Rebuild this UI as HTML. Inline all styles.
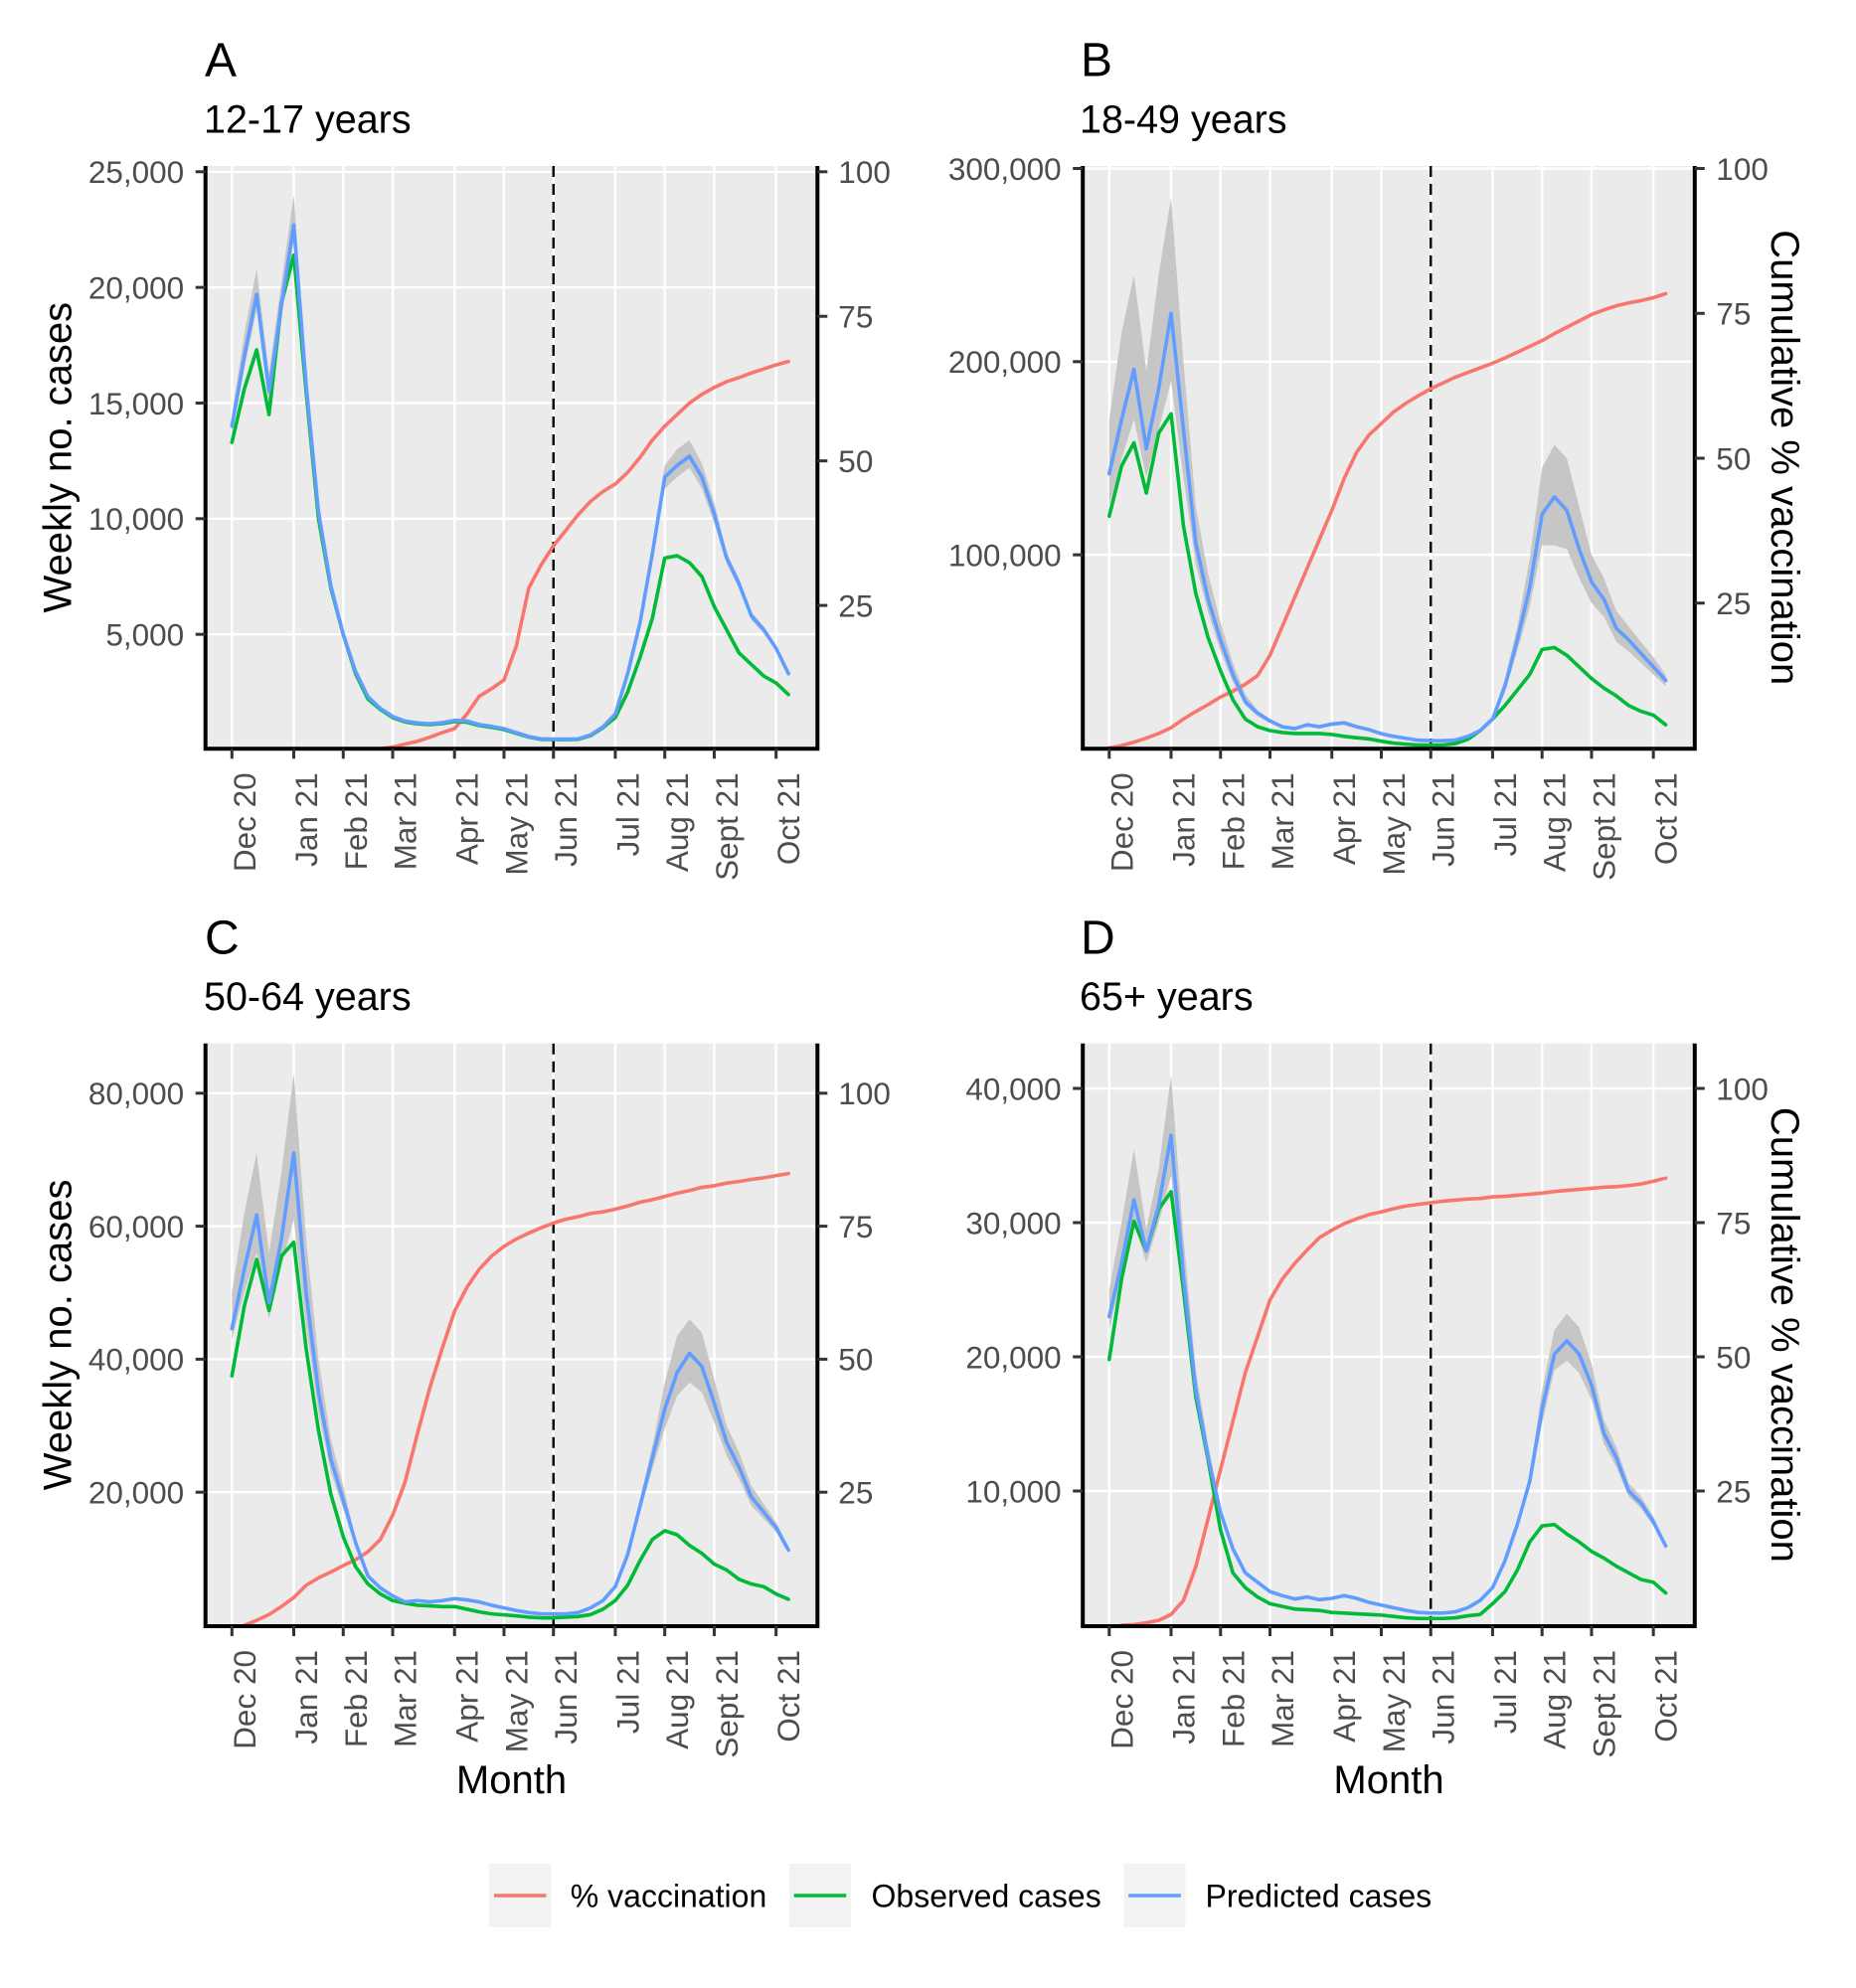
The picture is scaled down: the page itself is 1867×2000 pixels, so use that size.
<!DOCTYPE html>
<html><head><meta charset="utf-8">
<style>
html,body{margin:0;padding:0;background:#fff;}
svg{display:block;}
text{font-family:"Liberation Sans",Arial,Helvetica,sans-serif;}
.tk{font-size:31.5px;fill:#4D4D4D;}
.ttl{font-size:40px;fill:#000;}
.tag{font-size:48px;fill:#000;}
.sub{font-size:39.5px;fill:#000;}
.lg{font-size:32px;fill:#000;}
</style></head><body>
<svg width="1867" height="2000" viewBox="0 0 1867 2000">
<rect width="1867" height="2000" fill="#fff"/>
<g id="plots"></g>

<!-- tags and subtitles -->
<text class="tag" x="206" y="76.7">A</text>
<text class="sub" x="205" y="133.3">12-17 years</text>
<text class="tag" x="1087" y="76.7">B</text>
<text class="sub" x="1086" y="133.3">18-49 years</text>
<text class="tag" x="206" y="959.4">C</text>
<text class="sub" x="205" y="1016">50-64 years</text>
<text class="tag" x="1087" y="959.4">D</text>
<text class="sub" x="1086" y="1016">65+ years</text>

<!-- y tick labels A -->
<g class="tk" text-anchor="end">
<text x="185.2" y="649.5">5,000</text>
<text x="185.2" y="533.1">10,000</text>
<text x="185.2" y="416.8">15,000</text>
<text x="185.2" y="300.4">20,000</text>
<text x="185.2" y="184.1">25,000</text>
</g>
<g class="tk">
<text x="843.3" y="620.4">25</text>
<text x="843.3" y="475.0">50</text>
<text x="843.3" y="329.5">75</text>
<text x="843.3" y="184.1">100</text>
</g>
<!-- B -->
<g class="tk" text-anchor="end">
<text x="1067.7" y="569.5">100,000</text>
<text x="1067.7" y="375.1">200,000</text>
<text x="1067.7" y="180.8">300,000</text>
</g>
<g class="tk">
<text x="1726.3" y="618.1">25</text>
<text x="1726.3" y="472.3">50</text>
<text x="1726.3" y="326.6">75</text>
<text x="1726.3" y="180.8">100</text>
</g>
<!-- C -->
<g class="tk" text-anchor="end">
<text x="185.2" y="1512.5">20,000</text>
<text x="185.2" y="1378.7">40,000</text>
<text x="185.2" y="1244.9">60,000</text>
<text x="185.2" y="1111.1">80,000</text>
</g>
<g class="tk">
<text x="843.3" y="1512.5">25</text>
<text x="843.3" y="1378.7">50</text>
<text x="843.3" y="1244.9">75</text>
<text x="843.3" y="1111.1">100</text>
</g>
<!-- D -->
<g class="tk" text-anchor="end">
<text x="1067.7" y="1511.3">10,000</text>
<text x="1067.7" y="1376.3">20,000</text>
<text x="1067.7" y="1241.3">30,000</text>
<text x="1067.7" y="1106.3">40,000</text>
</g>
<g class="tk">
<text x="1726.3" y="1511.3">25</text>
<text x="1726.3" y="1376.3">50</text>
<text x="1726.3" y="1241.3">75</text>
<text x="1726.3" y="1106.3">100</text>
</g>

<!-- x tick labels -->
<g class="tk" text-anchor="end">
<text transform="translate(256.8,777.3) rotate(-90)">Dec 20</text>
<text transform="translate(319.0,777.3) rotate(-90)">Jan 21</text>
<text transform="translate(368.8,777.3) rotate(-90)">Feb 21</text>
<text transform="translate(418.5,777.3) rotate(-90)">Mar 21</text>
<text transform="translate(480.7,777.3) rotate(-90)">Apr 21</text>
<text transform="translate(530.5,777.3) rotate(-90)">May 21</text>
<text transform="translate(580.2,777.3) rotate(-90)">Jun 21</text>
<text transform="translate(642.4,777.3) rotate(-90)">Jul 21</text>
<text transform="translate(692.2,777.3) rotate(-90)">Aug 21</text>
<text transform="translate(742.0,777.3) rotate(-90)">Sept 21</text>
<text transform="translate(804.2,777.3) rotate(-90)">Oct 21</text>
</g>
<g class="tk" text-anchor="end" transform="translate(882.5,0)">
<text transform="translate(256.8,777.3) rotate(-90)">Dec 20</text>
<text transform="translate(319.0,777.3) rotate(-90)">Jan 21</text>
<text transform="translate(368.8,777.3) rotate(-90)">Feb 21</text>
<text transform="translate(418.5,777.3) rotate(-90)">Mar 21</text>
<text transform="translate(480.7,777.3) rotate(-90)">Apr 21</text>
<text transform="translate(530.5,777.3) rotate(-90)">May 21</text>
<text transform="translate(580.2,777.3) rotate(-90)">Jun 21</text>
<text transform="translate(642.4,777.3) rotate(-90)">Jul 21</text>
<text transform="translate(692.2,777.3) rotate(-90)">Aug 21</text>
<text transform="translate(742.0,777.3) rotate(-90)">Sept 21</text>
<text transform="translate(804.2,777.3) rotate(-90)">Oct 21</text>
</g>
<g class="tk" text-anchor="end" transform="translate(0,882.7)">
<text transform="translate(256.8,777.3) rotate(-90)">Dec 20</text>
<text transform="translate(319.0,777.3) rotate(-90)">Jan 21</text>
<text transform="translate(368.8,777.3) rotate(-90)">Feb 21</text>
<text transform="translate(418.5,777.3) rotate(-90)">Mar 21</text>
<text transform="translate(480.7,777.3) rotate(-90)">Apr 21</text>
<text transform="translate(530.5,777.3) rotate(-90)">May 21</text>
<text transform="translate(580.2,777.3) rotate(-90)">Jun 21</text>
<text transform="translate(642.4,777.3) rotate(-90)">Jul 21</text>
<text transform="translate(692.2,777.3) rotate(-90)">Aug 21</text>
<text transform="translate(742.0,777.3) rotate(-90)">Sept 21</text>
<text transform="translate(804.2,777.3) rotate(-90)">Oct 21</text>
</g>
<g class="tk" text-anchor="end" transform="translate(882.5,882.7)">
<text transform="translate(256.8,777.3) rotate(-90)">Dec 20</text>
<text transform="translate(319.0,777.3) rotate(-90)">Jan 21</text>
<text transform="translate(368.8,777.3) rotate(-90)">Feb 21</text>
<text transform="translate(418.5,777.3) rotate(-90)">Mar 21</text>
<text transform="translate(480.7,777.3) rotate(-90)">Apr 21</text>
<text transform="translate(530.5,777.3) rotate(-90)">May 21</text>
<text transform="translate(580.2,777.3) rotate(-90)">Jun 21</text>
<text transform="translate(642.4,777.3) rotate(-90)">Jul 21</text>
<text transform="translate(692.2,777.3) rotate(-90)">Aug 21</text>
<text transform="translate(742.0,777.3) rotate(-90)">Sept 21</text>
<text transform="translate(804.2,777.3) rotate(-90)">Oct 21</text>
</g>

<!-- axis titles -->
<text class="ttl" transform="translate(71.5,460.2) rotate(-90)" text-anchor="middle">Weekly no. cases</text>
<text class="ttl" transform="translate(71.5,1342.9) rotate(-90)" text-anchor="middle">Weekly no. cases</text>
<text class="ttl" transform="translate(1782,460.2) rotate(90)" text-anchor="middle">Cumulative % vaccination</text>
<text class="ttl" transform="translate(1782,1342.9) rotate(90)" text-anchor="middle">Cumulative % vaccination</text>
<text class="ttl" x="514.5" y="1804" text-anchor="middle">Month</text>
<text class="ttl" x="1397" y="1804" text-anchor="middle">Month</text>

<!-- legend -->
<rect x="492.3" y="1875" width="62" height="64" fill="#F2F2F2"/>
<line x1="497" y1="1907" x2="549.5" y2="1907" stroke="#F8766D" stroke-width="3.6"/>
<text class="lg" x="573.8" y="1918.5">% vaccination</text>
<rect x="794" y="1875" width="62" height="64" fill="#F2F2F2"/>
<line x1="798.7" y1="1907" x2="851.3" y2="1907" stroke="#00BA38" stroke-width="3.6"/>
<text class="lg" x="876.5" y="1918.5">Observed cases</text>
<rect x="1130.5" y="1875" width="62" height="64" fill="#F2F2F2"/>
<line x1="1135.2" y1="1907" x2="1187.8" y2="1907" stroke="#619CFF" stroke-width="3.6"/>
<text class="lg" x="1212.5" y="1918.5">Predicted cases</text>
</svg>

<script>
(function(){
var pw=12.44, months=[0,5,9,13,18,22,26,31,35,39,44];
var P=[
{id:'A',xL:206.7,xR:822.3,yT:167,yB:753.3,w0:233.3,z:754.5,k:0.023268,vm:25000,grid:[5000,10000,15000,20000,25000],rs:9,r:0.03,
blue:[14000,17000,19700,15500,19200,22700,15800,10300,7100,5000,3400,2300,1800,1450,1250,1170,1130,1180,1280,1250,1100,1020,920,750,580,480,470,470,480,650,1000,1550,3300,5500,8500,11800,12300,12700,11800,10200,8300,7200,5800,5200,4400,3300],
green:[13300,15600,17300,14500,19300,21400,15500,10000,7000,5000,3300,2200,1750,1400,1210,1130,1100,1140,1230,1200,1060,980,880,720,560,460,450,450,460,620,960,1400,2500,4000,5700,8300,8400,8100,7500,6200,5200,4200,3700,3200,2900,2400],
red:[0,0,0,0,0,0,0,0,0,0,0.05,0.1,0.2,0.5,1.0,1.5,2.2,3.0,3.7,6.2,9.3,10.6,12.1,18,28,32,35.3,38,40.7,43,44.7,46,48,50.6,53.6,56,58,60,61.5,62.7,63.7,64.4,65.2,65.9,66.6,67.2],
rib:{0:[13600,14500],1:[16500,18000],2:[19000,20800],3:[15000,16300],4:[18700,20200],5:[22000,24000],6:[15300,16500],35:[11300,12300],36:[11800,13000],37:[12200,13400],38:[11300,12400],39:[9800,10700]}},
{id:'B',xL:1089.2,xR:1704.8,yT:167,yB:753.3,w0:1115.8,z:752.5,k:0.0019433,vm:300000,grid:[100000,200000,300000],rs:0,r:0.08,
blue:[142000,170000,196000,155000,186000,225000,165000,106000,77000,56000,38000,24000,18000,14000,11000,10000,12000,11000,12400,13000,11000,9500,7400,6000,5000,4000,3800,3800,4100,6000,9000,15000,32000,56000,83000,121000,130000,123000,103000,86000,77000,62000,56000,49000,42000,35000],
green:[120000,146000,158000,132000,163000,173000,115000,80000,57000,40000,25000,15000,11000,9000,8000,7500,7500,7500,7000,6000,5300,4700,3500,2500,2000,1500,1500,1600,2300,4500,9000,15000,22000,30000,38000,51000,52000,48000,42000,36000,31000,27000,22000,19000,17000,12000],
red:[0,0.4,1.0,1.7,2.5,3.5,5.0,6.3,7.5,8.8,9.8,11,12.5,16,21,26,31,36,41,46.5,51,54,56,58,59.5,60.8,62,63,64,64.8,65.6,66.4,67.3,68.3,69.3,70.3,71.5,72.6,73.7,74.8,75.6,76.3,76.8,77.2,77.7,78.4],
rib:{0:[125000,170000],1:[150000,215000],2:[170000,245000],3:[140000,195000],4:[165000,245000],5:[190000,285000],6:[140000,200000],7:[95000,125000],8:[70000,90000],9:[50000,65000],10:[34000,44000],11:[22000,28000],32:[29000,36000],33:[50000,63000],34:[73000,98000],35:[105000,145000],36:[105000,157000],37:[103000,150000],38:[88000,125000],39:[75000,100000],40:[68000,88000],41:[55000,71000],42:[50000,63000],43:[44000,55000],44:[38000,47000],45:[32000,38000]}},
{id:'C',xL:206.7,xR:822.3,yT:1049.7,yB:1636,w0:233.3,z:1635,k:0.00669,vm:80000,grid:[20000,40000,60000,80000],rs:1,r:0.05,
blue:[44600,53500,61700,48500,58000,71000,50000,35000,25000,18800,12400,7400,5600,4400,3500,3700,3500,3700,4000,3800,3500,3000,2600,2200,1900,1700,1700,1700,1900,2600,3700,5800,10600,17900,25200,32500,38000,40900,38900,33400,27500,23800,19300,17000,14700,11300],
green:[37500,48000,55000,47300,55500,57600,41600,29300,19700,13300,8800,6200,4700,3700,3300,3000,2900,2800,2800,2400,2000,1700,1550,1400,1200,1100,1100,1200,1300,1600,2400,3700,6000,9700,12900,14200,13600,12000,10800,9200,8300,6900,6200,5800,4700,3900],
red:[0,0,0.9,2,3.5,5.2,7.5,8.9,10,11.2,12.3,13.8,16.1,20.7,26.9,36,44.6,52,59,63.5,66.9,69.4,71.2,72.6,73.7,74.7,75.6,76.3,76.8,77.4,77.7,78.2,78.8,79.5,80,80.6,81.2,81.7,82.3,82.6,83.1,83.4,83.8,84.1,84.5,84.9],
rib:{0:[43000,50000],1:[50000,62000],2:[56000,71000],3:[46000,56000],4:[54000,68000],5:[61000,83000],6:[45000,58000],7:[32000,40000],8:[23000,28000],9:[17500,21000],33:[17000,19000],34:[23500,27000],35:[29500,36500],36:[34500,43500],37:[36500,46000],38:[35000,44000],39:[30500,37000],40:[25500,30000],41:[22000,26000],42:[18000,21000],43:[16000,18200],44:[14000,15500],45:[10800,11800]}},
{id:'D',xL:1089.2,xR:1704.8,yT:1049.7,yB:1636,w0:1115.8,z:1635,k:0.0135,vm:40000,grid:[10000,20000,30000,40000],rs:1,r:0.04,
blue:[23000,27000,31700,27900,31300,36500,26000,17500,12500,8400,5700,3900,3200,2500,2200,1950,2100,1900,2000,2200,2000,1700,1500,1300,1100,950,900,900,1000,1300,1850,2800,4800,7500,10700,16100,20200,21200,20200,17900,14300,12500,10000,9100,7700,5900],
green:[19800,25800,30100,27900,31000,32300,25000,17000,12300,7100,3900,2800,2100,1600,1400,1200,1150,1100,950,900,850,800,750,650,550,500,500,500,550,700,800,1600,2500,4100,6200,7400,7500,6800,6200,5500,5000,4400,3900,3400,3200,2400],
red:[0,0,0.1,0.45,0.9,2,4.6,10.9,19.9,29,38,47,53.8,60.6,64.5,67.4,69.9,72.2,73.6,74.8,75.7,76.5,77,77.6,78.1,78.4,78.7,79,79.2,79.4,79.5,79.8,79.9,80.1,80.3,80.5,80.8,81,81.2,81.4,81.6,81.7,81.9,82.2,82.7,83.3],
rib:{0:[22000,25000],1:[26000,30000],2:[30000,35500],3:[27000,29500],4:[30000,34000],5:[33500,41000],6:[24500,29000],7:[16500,19000],8:[12000,13500],34:[10300,11200],35:[15000,17500],36:[19000,22000],37:[19700,23200],38:[18800,22200],39:[16800,19500],40:[13500,15300],41:[11800,13300],42:[9600,10600],43:[8700,9600],44:[7400,8100]}}
];
var s='';
P.forEach(function(p){
  function X(w){return (p.w0+w*pw).toFixed(2);}
  function Y(v){return (p.z-v*p.k).toFixed(2);}
  var W=(p.xR-p.xL).toFixed(2), H=(p.yB-p.yT).toFixed(2), i;
  s+='<defs><clipPath id="c'+p.id+'"><rect x="'+p.xL+'" y="'+p.yT+'" width="'+W+'" height="'+H+'"/></clipPath></defs>';
  s+='<rect x="'+p.xL+'" y="'+p.yT+'" width="'+W+'" height="'+H+'" fill="#EBEBEB"/>';
  months.forEach(function(m){s+='<line x1="'+X(m)+'" x2="'+X(m)+'" y1="'+p.yT+'" y2="'+p.yB+'" stroke="#FFFFFF" stroke-width="2.4"/>';});
  p.grid.forEach(function(v){s+='<line x1="'+p.xL+'" x2="'+p.xR+'" y1="'+Y(v)+'" y2="'+Y(v)+'" stroke="#FFFFFF" stroke-width="2.4"/>';});
  s+='<g clip-path="url(#c'+p.id+')">';
  var up=[],lo=[];
  for(i=0;i<46;i++){var b=p.blue[i];var rr=p.rib[i]||[b*(1-p.r),b*(1+p.r)];up.push(X(i)+','+Y(rr[1]));lo.unshift(X(i)+','+Y(rr[0]));}
  s+='<polygon points="'+up.concat(lo).join(' ')+'" fill="#C6C6C6"/>';
  s+='<line x1="'+X(26)+'" x2="'+X(26)+'" y1="'+p.yT+'" y2="'+p.yB+'" stroke="#000" stroke-width="2.4" stroke-dasharray="11 7"/>';
  var pts=[];
  for(i=p.rs;i<46;i++)pts.push(X(i)+','+Y(p.red[i]/100*p.vm));
  s+='<polyline points="'+pts.join(' ')+'" fill="none" stroke="#F8766D" stroke-width="3.6" stroke-linejoin="round" stroke-linecap="round"/>';
  pts=[];for(i=0;i<46;i++)pts.push(X(i)+','+Y(p.green[i]));
  s+='<polyline points="'+pts.join(' ')+'" fill="none" stroke="#00BA38" stroke-width="3.6" stroke-linejoin="round" stroke-linecap="round"/>';
  pts=[];for(i=0;i<46;i++)pts.push(X(i)+','+Y(p.blue[i]));
  s+='<polyline points="'+pts.join(' ')+'" fill="none" stroke="#619CFF" stroke-width="3.6" stroke-linejoin="round" stroke-linecap="round"/>';
  s+='</g>';
  s+='<path d="M'+p.xL+','+p.yT+'V'+p.yB+'H'+p.xR+'V'+p.yT+'" fill="none" stroke="#000" stroke-width="4" stroke-linejoin="miter"/>';
  p.grid.forEach(function(v){s+='<line x1="'+(p.xL-10)+'" x2="'+p.xL+'" y1="'+Y(v)+'" y2="'+Y(v)+'" stroke="#333" stroke-width="3"/>';});
  [25,50,75,100].forEach(function(c){var y=Y(c/100*p.vm);s+='<line x1="'+p.xR+'" x2="'+(p.xR+10)+'" y1="'+y+'" y2="'+y+'" stroke="#333" stroke-width="3"/>';});
  months.forEach(function(m){s+='<line x1="'+X(m)+'" x2="'+X(m)+'" y1="'+p.yB+'" y2="'+(p.yB+10)+'" stroke="#333" stroke-width="3"/>';});
});
document.getElementById('plots').innerHTML=s;
})();
</script>
</body></html>
